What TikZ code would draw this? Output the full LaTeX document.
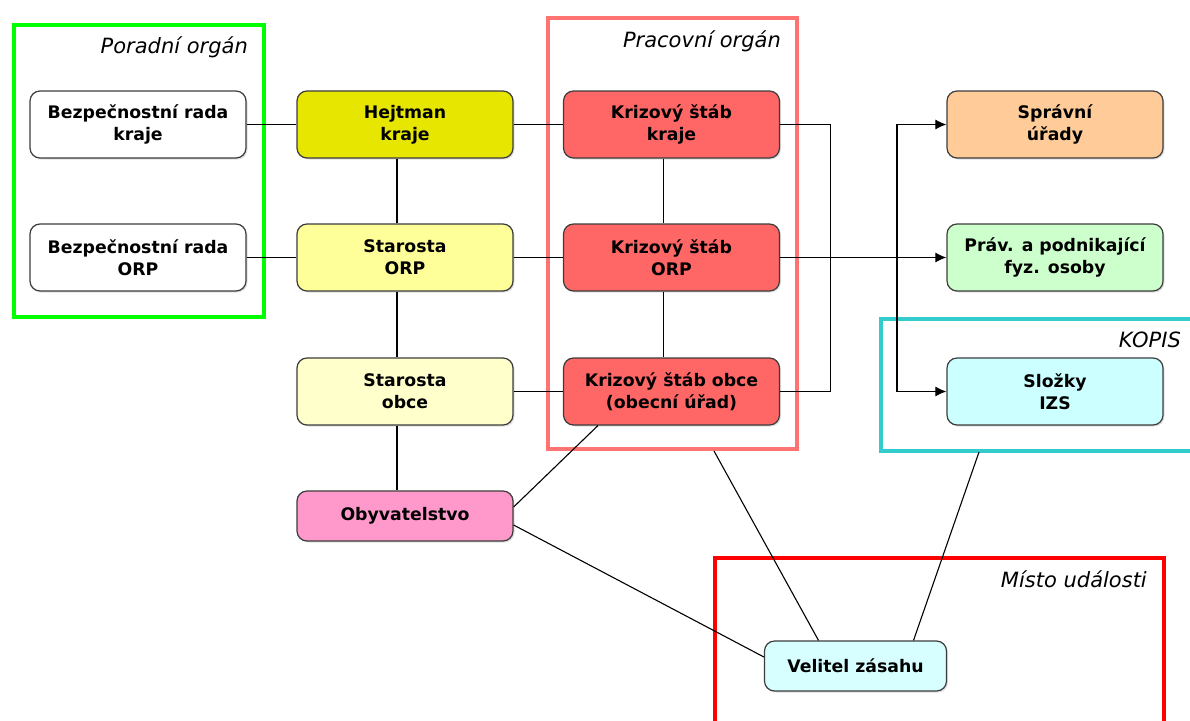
\documentclass[tikz,border=0pt]{standalone}
\usepackage{fontspec}
\setmainfont{DejaVu Sans}
\usetikzlibrary{arrows.meta,shadows}

\definecolor{boxBorder}{RGB}{60,60,60}
\definecolor{hejtmanYellow}{RGB}{230,230,0}
\definecolor{orpYellow}{RGB}{255,255,153}
\definecolor{obceYellow}{RGB}{255,255,204}
\definecolor{stabRed}{RGB}{255,102,102}
\definecolor{obyvPink}{RGB}{255,153,204}
\definecolor{spravniOrange}{RGB}{255,204,153}
\definecolor{pravGreen}{RGB}{204,255,204}
\definecolor{izsCyan}{RGB}{204,255,255}
\definecolor{velitelCyan}{RGB}{215,255,255}
\definecolor{poradniGreen}{RGB}{0,255,0}
\definecolor{pracovniPink}{RGB}{255,115,115}
\definecolor{kopisCyan}{RGB}{51,204,204}
\definecolor{mistoRed}{RGB}{255,0,0}

\begin{document}
\begin{tikzpicture}[x=1pt,y=-1pt,
	box/.style={draw=boxBorder, line width=1.2pt, rounded corners=10pt,
		minimum width=216pt, minimum height=67pt, inner sep=0pt, align=center,
		font=\fontsize{17.3}{22}\selectfont\bfseries,
		drop shadow={opacity=0.25, shadow xshift=1.5pt, shadow yshift=-1.5pt}},
	conn/.style={line width=1.1pt},
	arr/.style={conn, -{Latex[length=11pt,width=10pt]}},
	frame/.style={line width=4pt},
	tag/.style={anchor=base east, inner sep=0pt, font=\fontsize{21}{25}\selectfont\itshape}]
	
	\useasboundingbox (0,0) rectangle (1190,720);
	
	% Parameters
	\def\colA{138}
	\def\colB{405}
	\def\colC{671.5}
	\def\colD{1055}
	\def\rowA{124.5}
	\def\rowB{257.5}
	\def\rowC{391.5}
	
	% -----------------------------
	% Frames
	% -----------------------------
	\draw[frame, draw=poradniGreen] (13.5,24.5) rectangle (263.5,316.5);
	\draw[frame, draw=pracovniPink] (547.5,17.5) rectangle (796.5,449);
	\draw[frame, draw=kopisCyan] (880.5,318.5) rectangle (1200,450.5);
	\draw[frame, draw=mistoRed] (715,557.5) rectangle (1163.5,740);
	
	\node[tag] (poradniTag) at (248,53) {Poradní orgán};
	\node[tag] (pracovniTag) at (781,47) {Pracovní orgán};
	\node[tag] (kopisTag) at (1181,347) {KOPIS};
	\node[tag] (mistoTag) at (1147,587) {Místo události};
	
	\coordinate (pracovniOut) at (714,451);
	\coordinate (kopisOut) at (979,452);
	
	% -----------------------------
	% Boxes
	% -----------------------------
	\node[box, fill=white] (brKraj) at (\colA,\rowA) {Bezpečnostní rada\\kraje};
	\node[box, fill=white] (brOrp) at (\colA,\rowB) {Bezpečnostní rada\\ORP};
	
	\node[box, fill=hejtmanYellow] (hejtman) at (\colB,\rowA) {Hejtman\\kraje};
	\node[box, fill=orpYellow] (starOrp) at (\colB,\rowB) {Starosta\\ORP};
	\node[box, fill=obceYellow] (starObce) at (\colB,\rowC) {Starosta\\obce};
	\node[box, fill=obyvPink, minimum height=50pt] (obyv) at (\colB,516) {Obyvatelstvo};
	
	\node[box, fill=stabRed] (ksKraj) at (\colC,\rowA) {Krizový štáb\\kraje};
	\node[box, fill=stabRed] (ksOrp) at (\colC,\rowB) {Krizový štáb\\ORP};
	\node[box, fill=stabRed] (ksObce) at (\colC,\rowC) {Krizový štáb obce\\(obecní úřad)};
	
	\node[box, fill=spravniOrange] (spravni) at (\colD,\rowA) {Správní\\úřady};
	\node[box, fill=pravGreen] (prav) at (\colD,\rowB) {Práv. a podnikající\\fyz. osoby};
	\node[box, fill=izsCyan] (izs) at (\colD,\rowC) {Složky\\IZS};
	
	\node[box, fill=velitelCyan, minimum width=182pt, minimum height=50pt] (velitel) at (855.5,666) {Velitel zásahu};
	
	% -----------------------------
	% Connectors
	% -----------------------------
	\foreach \a/\b in {brKraj/hejtman, hejtman/ksKraj, brOrp/starOrp, starOrp/ksOrp, starObce/ksObce}
		\draw[conn] (\a) -- (\b);
	
	\foreach \a/\b in {hejtman/starOrp, starOrp/starObce, starObce/obyv, ksKraj/ksOrp, ksOrp/ksObce}
		\draw[conn] ([xshift=-8pt]\a.south) -- ([xshift=-8pt]\b.north);
	
	\draw[conn] (ksKraj.east) -- ++(50,0) |- (ksObce.east);
	
	% Arrows to the right column
	\draw[arr] (ksOrp) -- (prav);
	\coordinate (split) at (897,\rowB);
	\draw[arr] (split) |- (spravni);
	\draw[arr] (split) |- (izs);
	
	% Diagonals
	\draw[conn] ([yshift=9pt]obyv.east) -- ([xshift=35pt]ksObce.south west);
	\draw[conn] ([yshift=-9pt]obyv.east) -- ([yshift=9pt]velitel.west);
	\draw[conn] (pracovniOut) -- ([xshift=-37pt]velitel.north);
	\draw[conn] (kopisOut) -- ([xshift=58pt]velitel.north);
	
\end{tikzpicture}
\end{document}
